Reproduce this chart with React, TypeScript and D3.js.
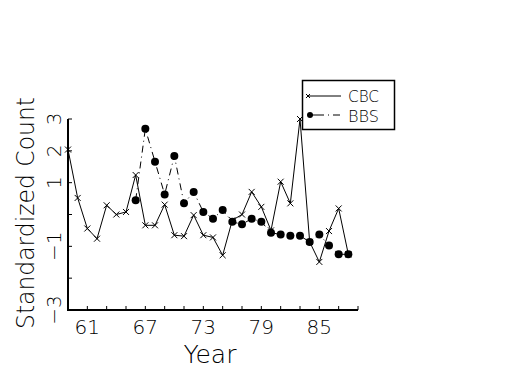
import React from 'react'
import * as d3 from 'd3'

// years for each series (19xx)
const cbcYears = d3.range(59, 89)
const cbcValues = [2.04, 0.52, -0.44, -0.76, 0.29, 0.0, 0.08, 1.24, -0.34, -0.34,
  0.31, -0.65, -0.68, -0.02, -0.65, -0.72, -1.28, -0.18, 0.0, 0.71,
  0.24, -0.5, 1.03, 0.35, 3.0, -0.86, -1.49, -0.52, 0.19, -1.25]

const bbsYears = d3.range(66, 89)
const bbsValues = [0.45, 2.69, 1.66, 0.63, 1.84, 0.35, 0.71, 0.08, -0.13, 0.14,
  -0.23, -0.31, -0.13, -0.23, -0.57, -0.63, -0.67, -0.67, -0.86, -0.63,
  -0.97, -1.25, -1.25]

const xTicks = d3.range(61, 90, 2)
const xLabels = [61, 67, 73, 79, 85]
const yTicks = d3.range(-3, 4)
const yLabels = [3, 2, 1, -1, -3]

const seriesNames = ['CBC', 'BBS']

const font = '"DejaVu Sans", sans-serif'

function App() {
  const width = 525
  const height = 375

  const x = d3.scaleLinear().domain([59, 89]).range([68, 358])
  const y = d3.scaleLinear().domain([-3, 3]).range([310, 119])

  const line = d3.line<[number, number]>()
    .x(d => x(d[0]))
    .y(d => y(d[1]))

  const cbc: [number, number][] = cbcYears.map((yr, i) => [yr, cbcValues[i]])
  const bbs: [number, number][] = bbsYears.map((yr, i) => [yr, bbsValues[i]])

  const cross = (cx: number, cy: number, s: number, key: string) => (
    <path key={key} d={`M${cx - s},${cy - s}L${cx + s},${cy + s}M${cx - s},${cy + s}L${cx + s},${cy - s}`}
      stroke="black" strokeWidth={1} />
  )

  const fmt = (v: number) => (v < 0 ? '\u2212' + Math.abs(v) : String(v))

  return (
    <svg width={width} height={height} style={{ position: 'absolute', left: 0, top: 0, background: 'white' }}
      fontFamily={font} fontWeight={200}>
      {/* series */}
      <path d={line(cbc) || ''} fill="none" stroke="black" strokeWidth={1} />
      {cbc.map((d, i) => cross(x(d[0]), y(d[1]), 3, 'c' + i))}
      <path d={line(bbs) || ''} fill="none" stroke="black" strokeWidth={1} strokeDasharray="7,4,1,4" />
      {bbs.map((d, i) => <circle key={'b' + i} cx={x(d[0])} cy={y(d[1])} r={4} fill="black" />)}

      {/* axes */}
      <line x1={68} x2={68} y1={y(3)} y2={y(-3) + 1} stroke="black" strokeWidth={2} />
      <line x1={67} x2={x(89)} y1={310} y2={310} stroke="black" strokeWidth={2} />
      {yTicks.map(t => <line key={'yt' + t} x1={68} x2={72} y1={y(t)} y2={y(t)} stroke="black" strokeWidth={1} />)}
      {xTicks.map(t => <line key={'xt' + t} x1={x(t)} x2={x(t)} y1={310} y2={306} stroke="black" strokeWidth={1} />)}

      {xLabels.map(t => (
        <text key={'xl' + t} x={x(t)} y={334} fontSize={20} textAnchor="middle">{t}</text>
      ))}
      {yLabels.map(t => (
        <text key={'yl' + t} transform={`translate(61,${y(t)}) rotate(-90)`} fontSize={20} textAnchor="middle">{fmt(t)}</text>
      ))}

      <text x={210} y={363} fontSize={25} textAnchor="middle">Year</text>
      <text transform="translate(34,213) rotate(-90)" fontSize={24} textAnchor="middle"
        textLength={232} lengthAdjust="spacingAndGlyphs">Standardized Count</text>

      {/* legend */}
      <rect x={302.5} y={80.5} width={92} height={49} fill="white" stroke="black" strokeWidth={1.5} />
      <line x1={308} x2={341} y1={96} y2={96} stroke="black" strokeWidth={1} />
      {cross(308, 96, 2, 'lc')}
      <line x1={310} x2={340} y1={115} y2={115} stroke="black" strokeWidth={1} strokeDasharray="14,4,1,4" />
      <circle cx={310} cy={115} r={3} fill="black" />
      {seriesNames.map((s, i) => (
        <text key={s} x={348} y={102 + i * 19.5} fontSize={16.5} textLength={31}
          lengthAdjust="spacingAndGlyphs">{s}</text>
      ))}
    </svg>
  )
}

export default App
